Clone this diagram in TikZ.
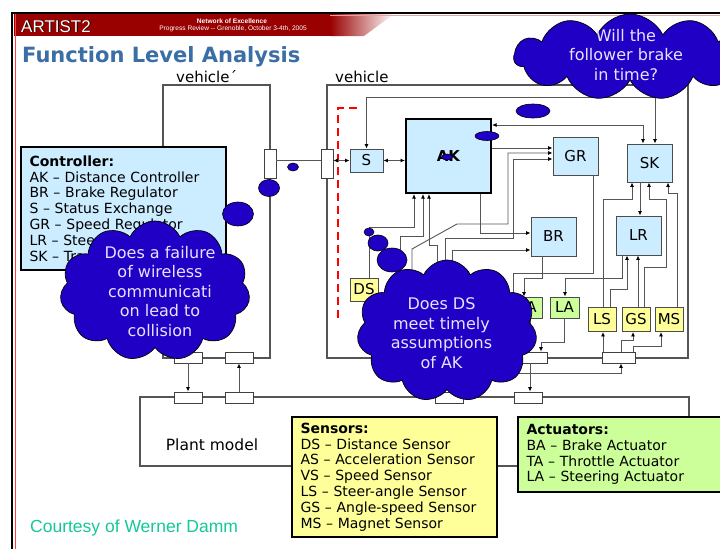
\documentclass[tikz,border=0pt]{standalone}
\usepackage{fontspec}
\setmainfont{DejaVu Sans}
\newfontfamily\arialfont{Liberation Sans}
\usetikzlibrary{arrows.meta,shapes.symbols,shapes.geometric}
\definecolor{artred}{HTML}{990000}
\definecolor{titleblue}{HTML}{3A6EA5}
\definecolor{lblue}{HTML}{CCECFF}
\definecolor{lyellow}{HTML}{FFFF99}
\definecolor{lgreen}{HTML}{CCFF99}
\definecolor{cloudblue}{HTML}{2100C6}
\definecolor{cloudtext}{HTML}{E4E4FF}
\definecolor{wirec}{HTML}{555555}
\definecolor{credit}{HTML}{14C89A}
\definecolor{pinkline}{HTML}{E8A0A0}
\tikzset{
  frame/.style={draw=wirec, line width=1.1pt, inner sep=0pt},
  wire/.style={draw=wirec, line width=0.9pt},
  arr/.style={wire, -{Latex[length=4.5pt,width=4pt,black]}},
  darr/.style={wire, {Latex[length=4.5pt,width=4pt,black]}-{Latex[length=4.5pt,width=4pt,black]}},
  port/.style={draw=black!75, fill=white, line width=0.8pt, inner sep=0pt},
  fnbox/.style={draw=black!70, line width=0.9pt, fill=lblue, inner sep=0pt, font=\fontsize{15}{17}\selectfont},
  snbox/.style={draw=black!70, line width=0.9pt, fill=lyellow, inner sep=0pt, font=\fontsize{15}{17}\selectfont},
  acbox/.style={draw=black!70, line width=0.9pt, fill=lgreen, inner sep=0pt, font=\fontsize{15}{17}\selectfont},
  legend/.style={draw=black, line width=2pt, align=left, inner xsep=8.5pt, inner ysep=0pt, font=\fontsize{14}{15.8}\selectfont},
  thought/.style={cloud, cloud puffs=11, cloud puff arc=130, draw=black, line width=0.7pt, fill=cloudblue, inner sep=0pt},
  thoughttext/.style={text=cloudtext, align=center, font=\fontsize{16}{19.5}\selectfont},
  bubble/.style={ellipse, fill=cloudblue, draw=black, line width=0.6pt, inner sep=0pt},
}
\begin{document}
\begin{tikzpicture}[x=1pt,y=-1pt]
\useasboundingbox (0,0) rectangle (720,549);
\fill[white] (0,0) rectangle (720,549);

% ---------- slide header ----------
\fill[artred] (14,14) rectangle (331,36);
\shade[left color=artred, right color=white] (330,14) -- (394,14) -- (364,36) -- (330,36) -- cycle;
\draw[pinkline, line width=1pt] (330,15.3) -- (720,15.3);
\draw[black, line width=2pt] (12,12) -- (12,549);
\draw[red!75, line width=0.8pt] (15.2,14) -- (15.2,549);
\node[anchor=base west, inner sep=0, text=black, font=\arialfont\fontsize{17}{19}\selectfont] (brandshadow) at (21.9,32.9) {ARTIST2};
\node[anchor=base west, inner sep=0, text=white, font=\arialfont\fontsize{17}{19}\selectfont] (brand) at (21,32) {ARTIST2};
\node[text=white, inner sep=0, font=\arialfont\bfseries\fontsize{6.6}{7}\selectfont] (noe) at (232,21) {Network of Excellence};
\node[text=white, inner sep=0, font=\arialfont\fontsize{6.6}{7}\selectfont] (review) at (233,28.5) {Progress Review -- Grenoble, October 3-4th, 2005};
\node[anchor=base west, inner sep=0, text=titleblue, font=\bfseries\fontsize{21}{24}\selectfont] (title) at (22,62) {Function Level Analysis};

% ---------- vehicle frames and plant ----------
\node[anchor=base west, inner sep=0, font=\fontsize{15}{17}\selectfont] (lblvp) at (176,82) {vehicle´};
\node[anchor=base west, inner sep=0, font=\fontsize{15}{17}\selectfont] (lblv) at (335,82) {vehicle};
\node[frame, minimum width=107, minimum height=273] (vehp) at (216.5,221.5) {};
\node[frame, minimum width=361, minimum height=273] (veh) at (507.5,221.5) {};
\node[frame, minimum width=549, minimum height=69] (plant) at (414.5,431.5) {};
\node[inner sep=0, font=\fontsize{15.5}{17}\selectfont] (plantlbl) at (212,445) {Plant model};

\draw[red, line width=2.2pt, dash pattern=on 8pt off 5pt] (357,108) -- (338,108) -- (338,318);

% ---------- function blocks ----------
\node[fnbox, line width=2pt, draw=black, minimum width=85, minimum height=74, font=\bfseries\fontsize{15}{17}\selectfont] (AK) at (448.5,156) {AK};
\node[fnbox, minimum width=33, minimum height=23] (S) at (366.5,160.5) {S};
\node[fnbox, minimum width=45, minimum height=38] (GR) at (575.5,156) {GR};
\node[fnbox, minimum width=45, minimum height=38] (SK) at (649.5,163) {SK};
\node[fnbox, minimum width=45, minimum height=39] (BR) at (553.5,236.5) {BR};
\node[fnbox, minimum width=45, minimum height=39] (LR) at (638.5,235.5) {LR};
\node[snbox, minimum width=28, minimum height=23] (DS) at (364,289.5) {DS};
\node[acbox, minimum width=29, minimum height=21] (TA) at (527.5,307.5) {TA};
\node[acbox, minimum width=29, minimum height=21] (LA) at (564.5,307.5) {LA};
\node[snbox, minimum width=28, minimum height=24] (LS) at (602,319.5) {LS};
\node[snbox, minimum width=28, minimum height=24] (GS) at (636,319.5) {GS};
\node[snbox, minimum width=28, minimum height=24] (MS) at (669,319.5) {MS};

% ---------- ports ----------
\node[port, minimum width=12, minimum height=29] (p1) at (270,163.5) {};
\node[port, minimum width=12, minimum height=29] (p2) at (327,163.5) {};
\node[port, minimum width=28, minimum height=11] (vb1) at (188,357.5) {};
\node[port, minimum width=28, minimum height=11] (vb2) at (239,357.5) {};
\node[port, minimum width=28, minimum height=11] (vb3) at (533,357.5) {};
\node[port, minimum width=33, minimum height=11] (vb4) at (618.5,357.5) {};
\node[port, minimum width=28, minimum height=11] (pb1) at (188,397.5) {};
\node[port, minimum width=28, minimum height=11] (pb2) at (239,397.5) {};
\node[port, minimum width=28, minimum height=11] (pb3) at (449,397.5) {};
\node[port, minimum width=28, minimum height=11] (pb4) at (528,397.5) {};

% sensor feeds that run under the cloud
\coordinate (in1) at (400,300);
\coordinate (in2) at (437,300);
\coordinate (in3) at (412,300);
\coordinate (in4) at (445,300);
\coordinate (in5) at (452,300);
\coordinate (out1) at (513,296);

% ---------- connectors ----------
\draw[wire] (p1.east |- 0,160) -- (p2.west |- 0,160);
\draw[darr] (p2.east |- S.west) -- (S.west);
\draw[darr] (S.east) -- (AK.west |- S.east);
\draw[darr] (S.north) |- (655,97) -- (SK.north -| 655,0);
\draw[darr] (AK.east |- 0,125) -| (SK.north -| 643,0);
\draw[arr] (AK.east |- 0,148) -- (GR.west |- 0,148);
\draw[arr] (in3) -- (412,249) -- (457,224) -- (508,224) -- (508,153) -- (GR.west |- 0,153);
\draw[arr] (in4) -- (445,238) -- (513,238) -- (513,159) -- (GR.west |- 0,159);
\draw[arr] (AK.south -| 480,0) |- (BR.west |- 0,233);
\draw[arr] (in5) |- (BR.west |- 0,250);
\draw[arr] (DS.north -| 369,0) |- (414,227) -- (AK.south -| 414,0);
\draw[arr] (in1) |- (423,236) -- (AK.south -| 423,0);
\draw[arr] (in2) |- (429,245) -- (AK.south -| 429,0);
\draw[arr] (BR.south -| 542,0) |- (524,278) -- (TA.north -| 524,0);
\draw[wire] (GR.south -| 593,0) |- (513,273) -- (out1);
\draw[arr] (LR.south -| 622,0) |- (565,278) -- (LA.north -| 565,0);
\draw[arr] (SK.south -| 640,0) -- (LR.north -| 640,0);
\draw[arr] (LS.north -| 603,0) |- (632,199) -- (SK.south -| 632,0);
\draw[arr] (LS.north -| 610,0) |- (627,289) -- (LR.south -| 627,0);
\draw[arr] (GS.north -| 638,0) -- (LR.south -| 638,0);
\draw[arr] (GS.north -| 644,0) |- (666,267) |- (649,199) -- (SK.south -| 649,0);
\draw[arr] (MS.north -| 677,0) |- (668,193) -- (SK.south -| 668,0);
\draw[arr] (vb4.north -| 603,0) -- (LS.south -| 603,0);
\draw[arr] (vb4.north -| 621,0) |- (633,340) -- (GS.south -| 633,0);
\draw[arr] (vb4.north -| 633,0) |- (661,346) -- (MS.south -| 661,0);
\draw[arr] (pb3.north) |- (621,373) -- (vb4.south -| 621,0);
\draw[arr] (TA.south -| 530,0) -- (vb3.north -| 530,0);
\draw[arr] (LA.south) |- (541,342) -- (vb3.north -| 541,0);
\draw[arr] (vb3.south -| 530,0) -- (pb4.north -| 530,0);
\draw[arr] (vb1.south) -- (pb1.north);
\draw[arr] (pb2.north) -- (vb2.south);

% ---------- legends ----------
\node[legend, fill=lblue, minimum width=205, minimum height=123, text width=188] (ctrl) at (123.5,208.5)
  {\textbf{Controller:}\\AK – Distance Controller\\BR – Brake Regulator\\S – Status Exchange\\GR – Speed Regulator\\LR – Stee\\SK – Tra};
\node[legend, fill=lyellow, minimum width=205, minimum height=120, text width=188] (sensors) at (394.5,477)
  {\textbf{Sensors:}\\DS – Distance Sensor\\AS – Acceleration Sensor\\VS – Speed Sensor\\LS – Steer-angle Sensor\\GS – Angle-speed Sensor\\MS – Magnet Sensor};
\node[legend, fill=lgreen, minimum width=210, minimum height=75, text width=193] (actuators) at (623,454.5)
  {\textbf{Actuators:}\\BA – Brake Actuator\\TA – Throttle Actuator\\LA – Steering Actuator};
\node[anchor=base west, inner sep=0, text=credit, font=\arialfont\fontsize{17.5}{20}\selectfont] (credit) at (30,532) {Courtesy of Werner Damm};

% ---------- thought clouds ----------
\node[bubble, minimum width=11, minimum height=8] (b11) at (293,167) {};
\node[bubble, minimum width=21, minimum height=17] (b12) at (269,188) {};
\node[bubble, minimum width=31, minimum height=24] (b13) at (238,214) {};
\node[thought, minimum width=190, minimum height=140] (c1) at (155,291) {};
\node[thoughttext] (t1) at (160,291.5) {Does a failure\\of wireless\\communicati\\on lead to\\collision};

\node[bubble, minimum width=10, minimum height=8] (b21) at (369,232) {};
\node[bubble, minimum width=20, minimum height=16] (b22) at (378,243) {};
\node[bubble, minimum width=30, minimum height=24] (b23) at (392,260) {};
\node[thought, minimum width=180, minimum height=142] (c2) at (447,331) {};
\node[thoughttext] (t2) at (441.5,333) {Does DS\\meet timely\\assumptions\\of AK};

\node[bubble, minimum width=11, minimum height=6] (b31) at (447,157) {};
\node[bubble, minimum width=24, minimum height=9] (b32) at (487,136) {};
\node[bubble, minimum width=34, minimum height=14] (b33) at (533,111) {};
\begin{scope}
  \clip (0,14) rectangle (720,549);
  \node[thought, minimum width=232, minimum height=86] (c3) at (630,57) {};
\end{scope}
\node[thoughttext] (t3) at (626,55) {Will the\\follower brake\\in time?};

% top rule of the slide, kept above the cloud
\draw[black, line width=2pt] (11,13) -- (720,13);
\end{tikzpicture}
\end{document}
